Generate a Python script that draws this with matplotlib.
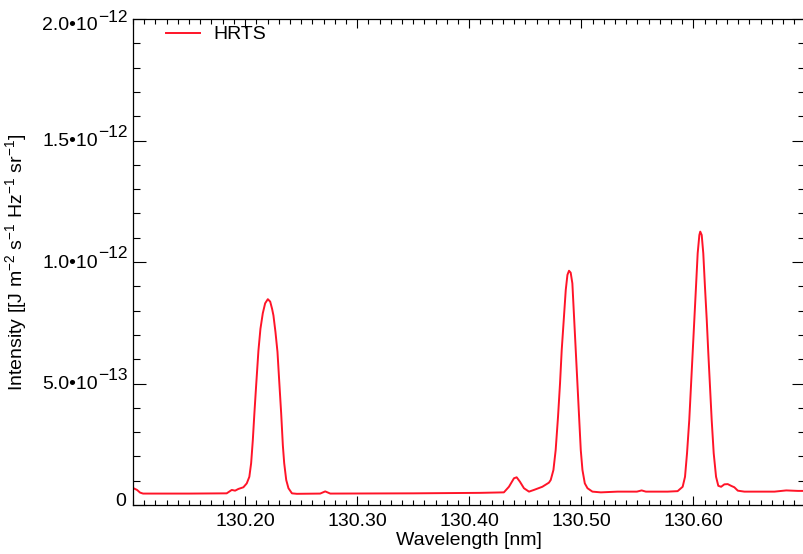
import numpy as np
import matplotlib
matplotlib.use("Agg")
import matplotlib.pyplot as plt
from matplotlib.ticker import MultipleLocator, FixedLocator, NullFormatter
import matplotlib.transforms as mtransforms

plt.rcParams['font.family'] = ['Liberation Sans', 'DejaVu Sans']
plt.rcParams['mathtext.fontset'] = 'custom'
plt.rcParams['mathtext.rm'] = 'Liberation Sans'
plt.rcParams['mathtext.it'] = 'Liberation Sans'
plt.rcParams['mathtext.default'] = 'regular'

# ---- data ----
wavelength_nm = [
    130.1000, 130.1036, 130.1063, 130.1090, 130.1500, 130.1836, 130.1881, 130.1911,
    130.1940, 130.1985, 130.2015, 130.2038, 130.2054, 130.2069, 130.2083, 130.2098,
    130.2119, 130.2137, 130.2158, 130.2179, 130.2203, 130.2224, 130.2241, 130.2253,
    130.2271, 130.2289, 130.2304, 130.2322, 130.2337, 130.2349, 130.2367, 130.2387,
    130.2418, 130.2462, 130.2670, 130.2715, 130.2760, 130.3500, 130.4101, 130.4309,
    130.4354, 130.4399, 130.4423, 130.4452, 130.4488, 130.4533, 130.4577, 130.4652,
    130.4711, 130.4727, 130.4751, 130.4771, 130.4792, 130.4810, 130.4825, 130.4845,
    130.4861, 130.4876, 130.4890, 130.4905, 130.4920, 130.4935, 130.4950, 130.4965,
    130.4980, 130.4995, 130.5010, 130.5031, 130.5055, 130.5099, 130.5174, 130.5323,
    130.5496, 130.5538, 130.5576, 130.5770, 130.5859, 130.5904, 130.5925, 130.5943,
    130.5963, 130.5978, 130.5993, 130.6008, 130.6023, 130.6038, 130.6053, 130.6061,
    130.6074, 130.6088, 130.6103, 130.6119, 130.6133, 130.6148, 130.6163, 130.6181,
    130.6202, 130.6222, 130.6247, 130.6276, 130.6306, 130.6336, 130.6365, 130.6396,
    130.6455, 130.6723, 130.6828, 130.6932, 130.7000,
]
# intensity in units of 1e-13 J m^-2 s^-1 Hz^-1 sr^-1
intensity_e13 = [
    0.70, 0.62, 0.51, 0.47, 0.47, 0.48, 0.62, 0.59,
    0.66, 0.73, 0.89, 1.16, 1.72, 2.67, 3.77, 4.87,
    6.35, 7.25, 7.89, 8.30, 8.47, 8.37, 8.07, 7.80,
    7.12, 6.30, 5.14, 3.77, 2.45, 1.72, 1.03, 0.69,
    0.48, 0.46, 0.47, 0.56, 0.47, 0.48, 0.50, 0.52,
    0.75, 1.10, 1.14, 0.96, 0.69, 0.55, 0.62, 0.75,
    0.92, 1.03, 1.44, 2.26, 3.63, 5.01, 6.38, 7.75,
    8.85, 9.47, 9.64, 9.56, 9.12, 7.75, 6.38, 5.01,
    3.63, 2.26, 1.44, 0.89, 0.69, 0.55, 0.52, 0.55,
    0.55, 0.60, 0.55, 0.55, 0.57, 0.75, 1.16, 2.13,
    3.50, 4.87, 6.24, 7.61, 8.98, 10.36, 11.11, 11.25,
    11.11, 10.36, 8.98, 7.61, 6.24, 4.87, 3.50, 2.13,
    1.16, 0.79, 0.75, 0.85, 0.86, 0.79, 0.73, 0.59,
    0.55, 0.55, 0.60, 0.58, 0.58,
]
series_label = "HRTS"

x_limits = [130.10, 130.70]
y_limits = [0.0, 2.0e-12]
x_major_ticks = [130.20, 130.30, 130.40, 130.50, 130.60]
x_tick_labels = ["130.20", "130.30", "130.40", "130.50", "130.60"]
y_major_ticks = [0.0, 5.0e-13, 1.0e-12, 1.5e-12, 2.0e-12]
y_tick_mantissa = ["0", "5.0\u202210", "1.0\u202210", "1.5\u202210", "2.0\u202210"]
y_tick_exponent = [None, "\u221213", "\u221212", "\u221212", "\u221212"]

x_label = "Wavelength [nm]"
y_label = r"Intensity [[J m$^{-2}$ s$^{-1}$ Hz$^{-1}$ sr$^{-1}$]"

# ---- figure ----
W, H = 804, 554
fig = plt.figure(figsize=(W / 100, H / 100), dpi=100)
ax_left, ax_right, ax_top, ax_bottom = 133, 805.5, 19, 505
ax = fig.add_axes([ax_left / W, (H - ax_bottom) / H,
                   (ax_right - ax_left) / W, (ax_bottom - ax_top) / H])

wl = np.array(wavelength_nm)
inten = np.array(intensity_e13) * 1e-13
ax.plot(wl, inten, color='#ff1428', lw=1.4, label=series_label, solid_joinstyle='round')

ax.set_xlim(*x_limits)
ax.set_ylim(*y_limits)

ax.xaxis.set_major_locator(FixedLocator(x_major_ticks))
ax.set_xticklabels(x_tick_labels, fontsize=14)
ax.xaxis.set_minor_locator(MultipleLocator(0.01))
ax.yaxis.set_major_locator(FixedLocator(y_major_ticks))
ax.yaxis.set_minor_locator(MultipleLocator(1e-13))
ax.yaxis.set_major_formatter(NullFormatter())

ax.tick_params(axis='both', which='both', direction='in', top=True, right=True,
               color='black', width=0.8)
ax.tick_params(axis='x', which='major', length=6.5, pad=6)
ax.tick_params(axis='x', which='minor', length=3.6)
ax.tick_params(axis='y', which='major', length=9.5)
ax.tick_params(axis='y', which='minor', length=5)
for s in ax.spines.values():
    s.set_linewidth(0.9)

# custom y tick labels with large superscript exponents
trans = mtransforms.blended_transform_factory(ax.transAxes, ax.transData)
label_shift_px = {0: 5.5, len(y_major_ticks) - 1: -6.0}
for i, (v, mant, ex) in enumerate(zip(y_major_ticks, y_tick_mantissa, y_tick_exponent)):
    shift = label_shift_px.get(i, 0.0)
    if ex is None:
        ax.annotate(mant, xy=(0, v), xycoords=trans, xytext=(-6.5, -6.5 + shift),
                    textcoords='offset pixels', ha='right', va='baseline',
                    fontsize=14, annotation_clip=False)
        continue
    e = ax.annotate(ex, xy=(0, v), xycoords=trans, xytext=(-5.5, 3.5 + shift),
                    textcoords='offset pixels', ha='right', va='baseline',
                    fontsize=12.5, annotation_clip=False)
    ax.annotate(mant, xy=(0, 0), xycoords=e, xytext=(0, -10),
                textcoords='offset pixels', ha='right', va='bottom',
                fontsize=14, annotation_clip=False)

ax.set_xlabel(x_label, fontsize=14, labelpad=1)
ax.set_ylabel(y_label, fontsize=14)
ax.yaxis.set_label_coords(-0.155, 0.5)

ax.legend(loc='upper left', bbox_to_anchor=(0.049, 0.986), frameon=False,
          fontsize=14, handlelength=1.75, handletextpad=0.67,
          borderpad=0, borderaxespad=0)

fig.savefig("out.png", dpi=100)
